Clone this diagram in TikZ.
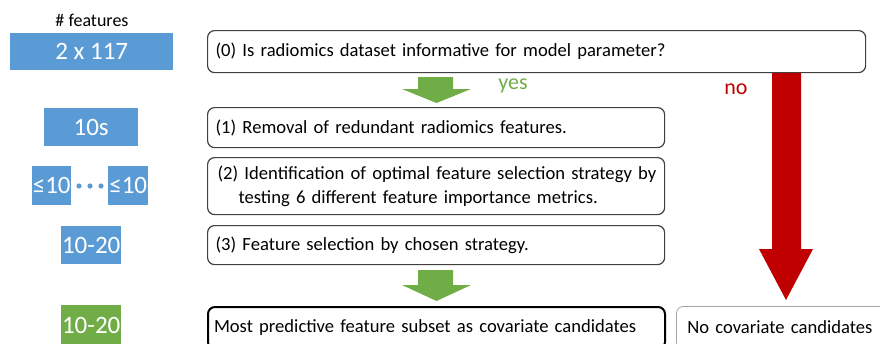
\documentclass[tikz,border=0pt]{standalone}
\usepackage{fontspec}
\setmainfont{Carlito}
\definecolor{bl}{HTML}{5B9BD5}
\definecolor{gr}{HTML}{70AD47}
\definecolor{rd}{HTML}{C00000}
\definecolor{ol}{HTML}{404040}
\definecolor{lg}{HTML}{A6A6A6}
\begin{document}
\begin{tikzpicture}[x=1pt,y=-1pt,
  feat/.style={fill=bl, text=white, font=\fontsize{25}{27}\selectfont, inner sep=0pt, anchor=north west},
  stepbox/.style={draw=ol, line width=1.2pt, rounded corners=7pt, anchor=north west, inner ysep=0pt, inner xsep=8pt, align=left, font=\fontsize{18.6}{23.5}\selectfont}]
\useasboundingbox (0,0) rectangle (880,343);
\clip (0,0) rectangle (880,343);
% feature counts
\node[font=\fontsize{18}{20}\selectfont] (hdr) at (92,20) {\# features};
\node[feat, minimum width=163pt, minimum height=37pt] (f0) at (10,33) {2 x 117};
\node[feat, minimum width=94pt, minimum height=38pt] (f1) at (44,108) {10s};
\node[feat, minimum width=39pt, minimum height=39pt] (f2a) at (32,166) {≤10};
\node[feat, minimum width=40pt, minimum height=39pt] (f2b) at (108,166) {≤10};
\foreach \x in {79,90,101} \fill[bl] (\x,186) circle (2.6pt);
\node[feat, minimum width=60pt, minimum height=38pt] (f3) at (61,226) {10-20};
\node[feat, fill=gr, minimum width=60pt, minimum height=40pt] (f4) at (61,305) {10-20};
% steps
\node[stepbox, text width=642pt, minimum height=42pt] (s0) at (207,30) {(0) Is radiomics dataset informative for model parameter?};
\node[stepbox, text width=441pt, minimum height=40pt] (s1) at (207,107) {(1) Removal of redundant radiomics features.};
\node[stepbox, inner xsep=1pt, text width=455pt, minimum height=57pt] (s2) at (207,157) {\hspace*{9pt}(2) Identification of optimal feature selection strategy by\\\hspace*{30pt}testing 6 different feature importance metrics.};
\node[stepbox, text width=441pt, minimum height=39pt] (s3) at (207,225) {(3) Feature selection by chosen strategy.};
\node[stepbox, draw=black, line width=2pt, inner xsep=6pt, text width=445pt, minimum height=42pt] (s4) at (207,306) {Most predictive feature subset as covariate candidates};
\node[stepbox, draw=lg, line width=0.8pt, inner xsep=11pt, text width=200pt, minimum height=42pt] (s5) at (676,306) {No covariate candidates};
% arrows
\fill[gr] (418,77) -- (453,77) -- (453,89) -- (471,89) -- (436.5,103) -- (402,89) -- (418,89) -- cycle;
\fill[gr] (418,270) -- (453,270) -- (453,285) -- (471,285) -- (436.5,301) -- (402,285) -- (418,285) -- cycle;
\fill[rd] (772,73) -- (801,73) -- (801,249) -- (813,249) -- (786,300) -- (759,249) -- (772,249) -- cycle;
\node[text=gr, font=\fontsize{22}{24}\selectfont] (yes) at (513,86) {yes};
\node[text=rd, font=\fontsize{22}{24}\selectfont] (no) at (736,89) {no};
\end{tikzpicture}
\end{document}
